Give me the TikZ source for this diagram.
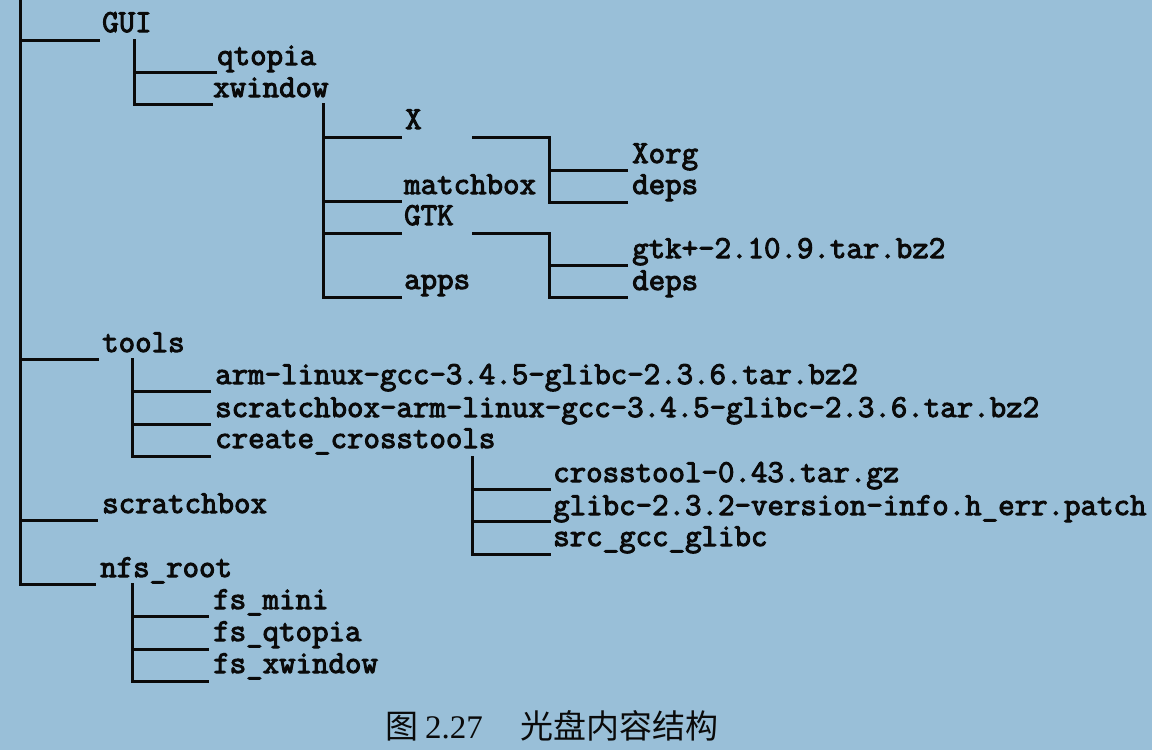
\documentclass[tikz,border=0pt]{standalone}
\usepackage{fontspec}
\newfontfamily\codefont[FakeBold=3.2]{Latin Modern Mono}
\newfontfamily\cjk{Noto Sans CJK SC}
\newfontfamily\capserif{Liberation Serif}
\definecolor{bgblue}{RGB}{153,191,216}
\definecolor{ink}{RGB}{10,10,10}
\tikzset{
  lbl/.style={anchor=base west, inner sep=0pt, text=ink,
    font=\codefont\fontsize{32}{34}\selectfont},
  tree/.style={line width=3pt, draw=ink, line cap=rect},
  captxt/.style={anchor=base west, inner sep=0pt, text=ink}
}
\begin{document}
\begin{tikzpicture}[x=1pt,y=-1pt]
\fill[bgblue] (0,0) rectangle (1152,750);
\useasboundingbox (0,0) rectangle (1152,750);

% ---------- labels ----------
\node[lbl] (gui) at (102,32) {GUI};
\node[lbl] (qtopia) at (217,65) {qtopia};
\node[lbl] (xwindow) at (213,97) {xwindow};
\node[lbl] (x) at (405,129) {X};
\node[lbl] (matchbox) at (404,194) {matchbox};
\node[lbl] (gtk) at (404,225) {GTK};
\node[lbl] (apps) at (404,289) {apps};
\node[lbl] (xorg) at (632,163) {Xorg};
\node[lbl] (xdeps) at (632,194) {deps};
\node[lbl] (gtkpkg) at (632,258) {gtk+-2.10.9.tar.bz2};
\node[lbl] (gdeps) at (632,290) {deps};
\node[lbl] (tools) at (102,352) {tools};
\node[lbl] (armgcc) at (215,384) {arm-linux-gcc-3.4.5-glibc-2.3.6.tar.bz2};
\node[lbl] (sbarm) at (215,417) {scratchbox-arm-linux-gcc-3.4.5-glibc-2.3.6.tar.bz2};
\node[lbl] (create) at (215,448) {create\_crosstools};
\node[lbl] (crosstool) at (553,482) {crosstool-0.43.tar.gz};
\node[lbl] (glibcpatch) at (553,515) {glibc-2.3.2-version-info.h\_err.patch};
\node[lbl] (srcgcc) at (553,546) {src\_gcc\_glibc};
\node[lbl] (scratchbox) at (102,513) {scratchbox};
\node[lbl] (nfsroot) at (100,577) {nfs\_root};
\node[lbl] (fsmini) at (213,609) {fs\_mini};
\node[lbl] (fsqtopia) at (213,641) {fs\_qtopia};
\node[lbl] (fsxwindow) at (213,673) {fs\_xwindow};

% ---------- caption ----------
\node[captxt, font=\cjk\fontsize{33}{36}\selectfont] (capfig) at (385,738) {图};
\node[captxt, font=\capserif\fontsize{33}{36}\selectfont] (capnum) at (425,738) {2.27};
\node[captxt, font=\cjk\fontsize{33}{36}\selectfont] (captitle) at (520,738) {光盘内容结构};

% ---------- junction coordinates ----------
% root
\coordinate (rTop) at (20,0);
\coordinate (rGUI) at (20,40);   \coordinate (eGUI) at (98,40);
\coordinate (rTools) at (20,359); \coordinate (eTools) at (97,359);
\coordinate (rSb) at (20,520);   \coordinate (eSb) at (96,520);
\coordinate (eNfs) at (94,584);
% GUI
\coordinate (gTop) at (134,40);
\coordinate (gQ) at (134,72);   \coordinate (eQ) at (215,72);
\coordinate (eXw) at (211,104);
% xwindow
\coordinate (wTop) at (323,104);
\coordinate (wX) at (323,137);  \coordinate (eX) at (400,137);
\coordinate (wM) at (323,201);  \coordinate (eM) at (400,201);
\coordinate (wG) at (323,233);  \coordinate (eG) at (400,233);
\coordinate (eA) at (400,297);
% X
\coordinate (xStart) at (473,137);
\coordinate (xTop) at (549,137);
\coordinate (xO) at (549,170);  \coordinate (eXo) at (626,170);
\coordinate (eXd) at (626,202);
% GTK
\coordinate (kStart) at (473,233);
\coordinate (kTop) at (549,233);
\coordinate (kP) at (549,265);  \coordinate (eKp) at (626,265);
\coordinate (eKd) at (626,297);
% tools
\coordinate (tTop) at (132,359);
\coordinate (tA) at (132,391);  \coordinate (eTa) at (209,391);
\coordinate (tS) at (132,424);  \coordinate (eTs) at (209,424);
\coordinate (eTc) at (209,456);
% create_crosstools
\coordinate (cTop) at (472,457);
\coordinate (cC) at (472,489);  \coordinate (eCc) at (549,489);
\coordinate (cG) at (472,521);  \coordinate (eCg) at (549,521);
\coordinate (eCs) at (549,554);
% nfs_root
\coordinate (nTop) at (132,584);
\coordinate (nM) at (132,616);  \coordinate (eNm) at (207,616);
\coordinate (nQ) at (132,649);  \coordinate (eNq) at (207,649);
\coordinate (eNx) at (207,681);

% ---------- tree lines ----------
\draw[tree] (rTop) |- (eNfs);
\draw[tree] (rGUI) -- (eGUI);
\draw[tree] (rTools) -- (eTools);
\draw[tree] (rSb) -- (eSb);

\draw[tree] (gTop) |- (eXw);
\draw[tree] (gQ) -- (eQ);

\draw[tree] (wTop) |- (eA);
\draw[tree] (wX) -- (eX);
\draw[tree] (wM) -- (eM);
\draw[tree] (wG) -- (eG);

\draw[tree] (xStart) -- (xTop) |- (eXd);
\draw[tree] (xO) -- (eXo);

\draw[tree] (kStart) -- (kTop) |- (eKd);
\draw[tree] (kP) -- (eKp);

\draw[tree] (tTop) |- (eTc);
\draw[tree] (tA) -- (eTa);
\draw[tree] (tS) -- (eTs);

\draw[tree] (cTop) |- (eCs);
\draw[tree] (cC) -- (eCc);
\draw[tree] (cG) -- (eCg);

\draw[tree] (nTop) |- (eNx);
\draw[tree] (nM) -- (eNm);
\draw[tree] (nQ) -- (eNq);
\end{tikzpicture}
\end{document}
